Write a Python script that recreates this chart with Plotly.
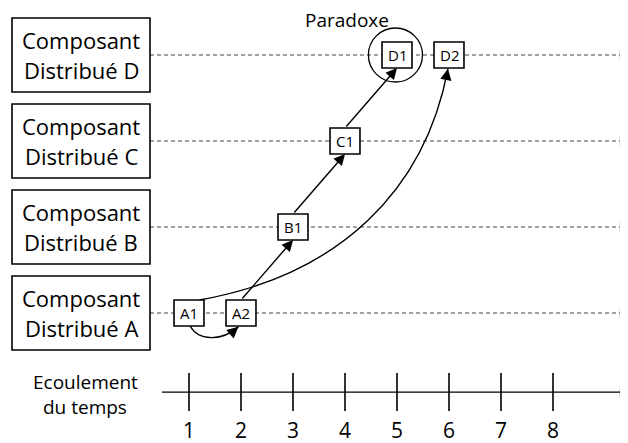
import plotly.graph_objects as go

# ---- data ----
components = ["A", "B", "C", "D"]             # rows, bottom to top
component_lines = [("Composant", "Distribué A"), ("Composant", "Distribué B"),
                   ("Composant", "Distribué C"), ("Composant", "Distribué D")]
time_ticks = [1, 2, 3, 4, 5, 6, 7, 8]
event_names = ["A1", "A2", "B1", "C1", "D1", "D2"]
event_component = ["A", "A", "B", "C", "D", "D"]
event_time = [1, 2, 3, 4, 5, 6]
straight_links = [("A2", "B1"), ("B1", "C1"), ("C1", "D1")]
curved_links = [("A1", "A2"), ("A1", "D2")]
paradox_event = "D1"
paradox_label = "Paradoxe"
axis_lines = ("Ecoulement", "du temps")

# ---- geometry helpers (styling) ----
FONT = "Open Sans"
OFF = 8  # page body margin
row = {c: i for i, c in enumerate(components)}
pos = {n: (t, row[c]) for n, c, t in zip(event_names, event_component, event_time)}
XR = [1 + (OFF - 189) / 52, 1 + (628 + OFF - 189) / 52]
YR = [-(443 + OFF - 313) / 86, (313 - OFF) / 86]
HW, HH = 0.288, 0.151          # event box half sizes
LINE_START, LINE_END = 0.25, 9.33
AXIS_Y = -0.919

fig = go.Figure()
shapes, annotations = [], []

def txt(x, y, s, size, h=None):
    a = dict(x=x, y=y, xref="x", yref="y", text=s, showarrow=False,
             font=dict(family=FONT, size=size, color="black"))
    if h:
        a["height"] = h
    annotations.append(a)

# dashed component lines
for c in components:
    r = row[c]
    shapes.append(dict(type="line", xref="x", yref="y", x0=LINE_START, x1=LINE_END, y0=r, y1=r,
                       line=dict(color="#444", width=1, dash="4px,3px")))
# time axis
shapes.append(dict(type="line", xref="x", yref="y", x0=0.48, x1=LINE_END, y0=AXIS_Y, y1=AXIS_Y,
                   line=dict(color="black", width=1.3)))
for t in time_ticks:
    shapes.append(dict(type="line", xref="x", yref="y", x0=t, x1=t, y0=-0.698, y1=-1.14,
                       line=dict(color="black", width=1.6)))
    txt(t, -1.36, str(t), 21, h=22)

# arrow heads at right end
fig.add_trace(go.Scatter(x=[LINE_END] * (len(components) + 1),
                         y=[row[c] for c in components] + [AXIS_Y],
                         mode="markers", hoverinfo="skip",
                         marker=dict(symbol="triangle-right", size=9, color="black")))

# component boxes
for c, (l1, l2) in zip(components, component_lines):
    r = row[c]
    shapes.append(dict(type="rect", xref="x", yref="y", x0=-2.404, x1=0.25, y0=r - 0.43, y1=r + 0.43,
                       line=dict(color="black", width=1.6), fillcolor="white"))
    txt(-1.077, r + 0.175, l1, 22)
    txt(-1.077, r - 0.175, l2, 22)

txt(-1.0, AXIS_Y + 0.12, axis_lines[0], 19)
txt(-1.0, AXIS_Y - 0.17, axis_lines[1], 19)

# paradox circle
pt, pr = pos[paradox_event]
shapes.append(dict(type="circle", xref="x", yref="y", x0=pt - 0.55, x1=pt + 0.49,
                   y0=pr - 0.314, y1=pr + 0.314, line=dict(color="black", width=1.3)))
txt(pt - 0.96, 3.41, paradox_label, 19, h=18)

# curved links
def curve_pts(a, b):
    (ta, ra), (tb, rb) = pos[a], pos[b]
    if rb == ra:   # loop below
        return [(ta + 0.02, ra - HH), (ta + 0.2, ra - 0.34), (tb - 0.35, rb - 0.32), (tb - 0.05, rb - HH - 0.01)]
    return [(ta + 0.2, ra + HH), (ta + 2.9, ra + 0.44), (tb - 0.46, rb - 1.57), (tb - 0.02, rb - HH - 0.01)]

for a, b in curved_links:
    p = curve_pts(a, b)
    path = "M {},{} C {},{} {},{} {},{}".format(*[v for q in p for v in q])
    shapes.append(dict(type="path", xref="x", yref="y", path=path,
                       line=dict(color="black", width=1.4)))
    (x2, y2), (x3, y3) = p[2], p[3]
    k = 0.06 if b != "A2" else 0.3
    annotations.append(dict(x=x3, y=y3, ax=x3 - k * (x3 - x2), ay=y3 - k * (y3 - y2),
                            xref="x", yref="y", axref="x", ayref="y", text="", showarrow=True,
                            arrowhead=2, arrowsize=1.6, arrowwidth=1.4, arrowcolor="black", standoff=0))

# straight links
for a, b in straight_links:
    (ta, ra), (tb, rb) = pos[a], pos[b]
    annotations.append(dict(x=tb, y=rb - HH, ax=ta, ay=ra + HH, xref="x", yref="y", axref="x", ayref="y",
                            text="", showarrow=True, arrowhead=2, arrowsize=1.6, arrowwidth=1.4,
                            arrowcolor="black", standoff=0))

# event boxes
for n in event_names:
    t, r = pos[n]
    shapes.append(dict(type="rect", xref="x", yref="y", x0=t - HW, x1=t + HW, y0=r - HH, y1=r + HH,
                       line=dict(color="black", width=1.6), fillcolor="white"))
    txt(t, r, n, 15, h=18)

fig.update_layout(
    width=628, height=443, margin=dict(l=0, r=0, t=0, b=0),
    paper_bgcolor="white", plot_bgcolor="white", showlegend=False,
    xaxis=dict(range=XR, visible=False, fixedrange=True),
    yaxis=dict(range=YR, visible=False, fixedrange=True),
    shapes=shapes, annotations=annotations,
)
fig.write_html("out.html")
